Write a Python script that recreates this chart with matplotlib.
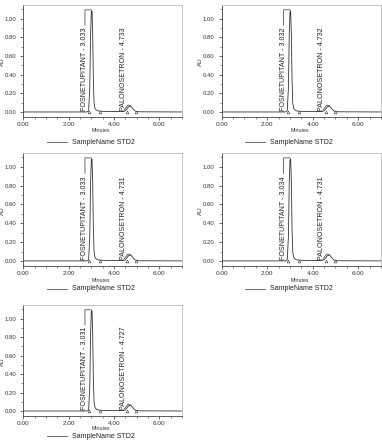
import matplotlib
matplotlib.use("Agg")
import matplotlib.pyplot as plt
from matplotlib.ticker import MultipleLocator, FormatStrFormatter

# ---- data ----
fos_rt = [3.033, 3.032, 3.033, 3.034, 3.031]
palo_rt = [4.733, 4.732, 4.731, 4.731, 4.727]
legend_label = "SampleName STD2"

time_min = [0.0, 2.80, 2.88, 2.93, 2.97, 3.00, 3.03, 3.06, 3.09, 3.12, 3.16, 3.22, 3.32, 3.6,
            4.40, 4.50, 4.58, 4.64, 4.70, 4.74, 4.80, 4.87, 4.95, 5.10, 7.0]
au = [0.0, 0.0, 0.01, 0.25, 0.85, 1.07, 1.08, 0.85, 0.35, 0.10, 0.04, 0.02, 0.01, 0.005,
      0.004, 0.012, 0.035, 0.055, 0.06, 0.065, 0.045, 0.025, 0.008, 0.002, 0.0]
fos_marks = [2.90, 3.38]
palo_marks = [4.57, 4.97]

W, H = 382, 445
fig = plt.figure(figsize=(W / 100, H / 100), dpi=100)
plt.rcParams['font.family'] = ['Liberation Sans', 'DejaVu Sans']

# panel boxes in pixels: left, right, top, bottom, minutes-label y, legend y
boxes = [
    (23.3, 182, 5, 117, 131, 142),
    (221.7, 381, 5, 117, 131, 142),
    (23.3, 182, 153, 266, 280, 289),
    (221.7, 381, 153, 266, 280, 289),
    (23.3, 182, 305, 416, 428, 436),
]
lc = '#333333'
for i, (l, r, t, b, my, ly) in enumerate(boxes):
    ax = fig.add_axes([l / W, 1 - b / H, (r - l) / W, (b - t) / H])
    ax.plot(time_min, au, color=lc, lw=0.6)
    ax.set_xlim(0, 7.0)
    ax.set_ylim(-0.054, 1.147)
    ax.xaxis.set_major_locator(MultipleLocator(2))
    ax.xaxis.set_minor_locator(MultipleLocator(0.5))
    ax.yaxis.set_major_locator(MultipleLocator(0.2))
    ax.yaxis.set_minor_locator(MultipleLocator(0.1))
    ax.xaxis.set_major_formatter(FormatStrFormatter('%.2f'))
    ax.yaxis.set_major_formatter(FormatStrFormatter('%.2f'))
    ax.tick_params(axis='x', which='major', labelsize=4.6, length=2.5, width=0.5, pad=1.2, colors=lc)
    ax.tick_params(axis='y', which='major', labelsize=4.3, length=2.5, width=0.5, pad=2.5, colors=lc)
    ax.tick_params(which='minor', length=1.3, width=0.4, colors=lc)
    for s in ['left', 'bottom']:
        ax.spines[s].set_color('#444444')
        ax.spines[s].set_linewidth(0.6)
    for s in ['top', 'right']:
        ax.spines[s].set_color('#bbbbbb')
        ax.spines[s].set_linewidth(0.6)
    ax.set_xlabel('Minutes', fontsize=3.8, color=lc)
    ax.xaxis.set_label_coords(0.49, (b - my) / (b - t))
    ax.xaxis.label.set_va('center')
    ax.set_ylabel('AU', fontsize=4.5, color=lc)
    ax.yaxis.set_label_coords((4.5 - l) / (r - l) if l < 100 else (4.5 + 198.4 - l) / (r - l), 0.49)

    # peak labels
    ax.text(2.72, 0.012, f"FOSNETUPITANT - {fos_rt[i]:.3f}", rotation=90, fontsize=5.1,
            ha='center', va='bottom', color='#222222')
    ax.plot([2.72, 2.72, 3.0, 3.02], [0.93, 1.095, 1.095, 1.075], color=lc, lw=0.5)
    ax.text(4.40, 0.012, f"PALONOSETRON - {palo_rt[i]:.3f}", rotation=90, fontsize=5.1,
            ha='center', va='bottom', color='#222222')
    ax.plot([4.45, 4.62, 4.72], [0.02, 0.075, 0.065], color=lc, lw=0.5)
    ax.plot(fos_marks + palo_marks, [0.003] * 4, linestyle='none', marker='^', ms=2,
            mfc='white', mec=lc, mew=0.4)

    # legend
    x0 = l + 23.7
    fig.add_artist(plt.Line2D([x0 / W, (x0 + 20) / W], [1 - ly / H, 1 - ly / H],
                              color='#555555', lw=0.6))
    fig.text((x0 + 25) / W, 1 - ly / H, legend_label, fontsize=5.0, va='center',
             ha='left', color='#222222')

fig.savefig('out.png', dpi=100)
